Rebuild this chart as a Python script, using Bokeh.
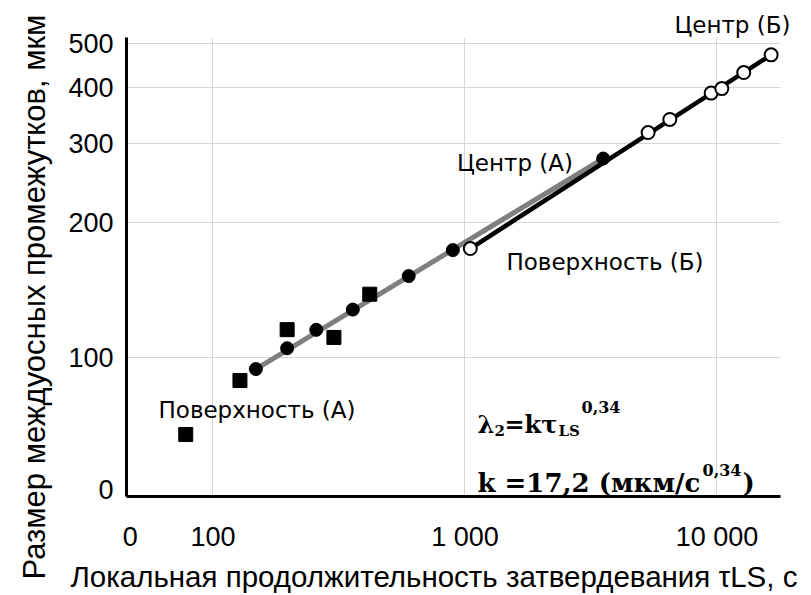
import math
from bokeh.plotting import figure
from bokeh.models import Range1d, FixedTicker, Label, Title
from bokeh.embed import file_html
from bokeh.resources import INLINE

# ---------------- data ----------------
# Поверхность (А): squares
surf_a_x = [78, 128, 197, 302, 419]
surf_a_y = [67.5, 89, 115.5, 111, 138.5]
# Series A (filled circles): from surface to centre (А)
a_x = [148, 197, 257, 359, 598, 895, 3535]
a_y = [94.4, 105, 115.4, 128, 152, 173.6, 277.5]
# Series Б (open circles): from surface to centre (Б)
b_x = [1050, 5330, 6500, 9480, 10450, 12770, 16400]
b_y = [175, 317, 339, 388, 397, 431, 472]

x_ticks = [47, 100, 1000, 10000]
x_tick_labels = ["0", "100", "1 000", "10 000"]
y_ticks = [51, 100, 200, 300, 400, 500]
y_tick_labels = ["0", "100", "200", "300", "400", "500"]
x_grid = [100, 1000, 10000]
y_grid = [100, 200, 300, 400, 500]

y_title = "Размер междуосных промежутков, мкм"
x_title = "Локальная продолжительность затвердевания τLS, с"

# ---------------- layout ----------------
W, H = 811, 595
FL, FR, FT, FB = 126, 780, 37, 497
X0, X1 = 45.4, 17865.0
Y0, Y1 = 49.14, 515.8


def xd(px):
    return 10 ** (math.log10(X0) + (px - FL) / (FR - FL) * (math.log10(X1) - math.log10(X0)))


def yd(py):
    return 10 ** (math.log10(Y0) + (FB - py) / (FB - FT) * (math.log10(Y1) - math.log10(Y0)))


p = figure(width=W, height=H, x_axis_type="log", y_axis_type="log",
           x_range=Range1d(X0, X1), y_range=Range1d(Y0, Y1),
           output_backend="svg", toolbar_location=None,
           min_border_left=FL, min_border_right=W - FR,
           min_border_top=FT, min_border_bottom=H - FB)
p.outline_line_color = None
p.background_fill_color = "white"
p.border_fill_color = "white"

for ax, ticks, labels in ((p.xaxis[0], x_ticks, x_tick_labels),
                          (p.yaxis[0], y_ticks, y_tick_labels)):
    ax.ticker = FixedTicker(ticks=ticks)
    ax.major_label_overrides = dict(zip(ticks, labels))
    ax.major_tick_line_color = None
    ax.minor_tick_line_color = None
    ax.major_tick_out = 0
    ax.major_tick_in = 0
    ax.axis_line_color = "black"
    ax.axis_line_width = 3
    ax.major_label_text_font = "Liberation Sans"
    ax.major_label_text_font_size = "27px"
    ax.major_label_text_color = "black"
p.xaxis[0].major_label_standoff = 25
p.yaxis[0].major_label_standoff = 13

p.xgrid.ticker = FixedTicker(ticks=x_grid)
p.ygrid.ticker = FixedTicker(ticks=y_grid)
for g in (p.xgrid[0], p.ygrid[0]):
    g.grid_line_color = "#d6d6d6"
    g.grid_line_width = 1

# fitted lines through the first and last points of each series
p.line([a_x[0], a_x[-1]], [a_y[0], a_y[-1]], line_color="#7f7f7f", line_width=5)
p.line([b_x[0], b_x[-1]], [b_y[0], b_y[-1]], line_color="black", line_width=4.5)

p.scatter(surf_a_x, surf_a_y, marker="square", size=14, fill_color="black", line_color="black")
p.scatter(a_x, a_y, marker="circle", size=13, fill_color="black", line_color="black")
p.scatter(b_x, b_y, marker="circle", size=13, fill_color="white", line_color="black", line_width=2)


def lab(text, px, py, size, font="DejaVu Sans", align="left", baseline="alphabetic",
        style="normal"):
    p.add_layout(Label(x=xd(px), y=yd(py), text=text, text_font=font,
                       text_font_size=f"{size}px", text_align=align,
                       text_baseline=baseline, text_font_style=style,
                       text_color="black"))


# point annotations inside the frame
lab("Центр (А)", 514.5, 163, 23, align="center")
lab("Поверхность (Б)", 604.5, 262, 23, align="center")
lab("Поверхность (А)", 256.5, 410, 23, align="center")

# "Центр (Б)" sits above the frame: the plot title, right aligned
p.title.text = "Центр (Б)"
p.title.align = "right"
p.title.offset = -10
p.title.standoff = 0
p.title.text_font = "DejaVu Sans"
p.title.text_font_size = "23px"
p.title.text_font_style = "normal"
p.title.text_color = "black"

# formula, line 1: λ2 = k τLS^0,34
SERIF = "DejaVu Serif"
lab("λ", 477, 425, 24, font=SERIF, style="bold")
lab("2", 494, 431, 15, font=SERIF, style="bold")
lab("=kτ", 504, 425, 24, font=SERIF, style="bold")
lab("LS", 558, 431, 15, font=SERIF, style="bold")
lab("0,34", 581, 407, 16, font=SERIF, style="bold")
# formula, line 2
lab("k =17,2 (мкм/с", 477, 483, 26, font=SERIF, style="bold")
lab("0,34", 702, 470, 16, font=SERIF, style="bold")
lab(")", 742, 483, 26, font=SERIF, style="bold")

# y axis title: left panel, starting near the bottom of the canvas
p.add_layout(Title(text=y_title, align="left", offset=-83, standoff=26,
                   vertical_align="middle",
                   text_font="Liberation Sans", text_font_size="31px",
                   text_font_style="normal", text_color="black"), "left")

# x axis title: below panel, starting at the left of the canvas
p.add_layout(Title(text=x_title, align="left", offset=-56, standoff=6,
                   vertical_align="bottom",
                   text_font="Liberation Sans", text_font_size="29.5px",
                   text_font_style="normal", text_color="black"), "below")

open("out.html", "w").write(file_html(p, INLINE))
